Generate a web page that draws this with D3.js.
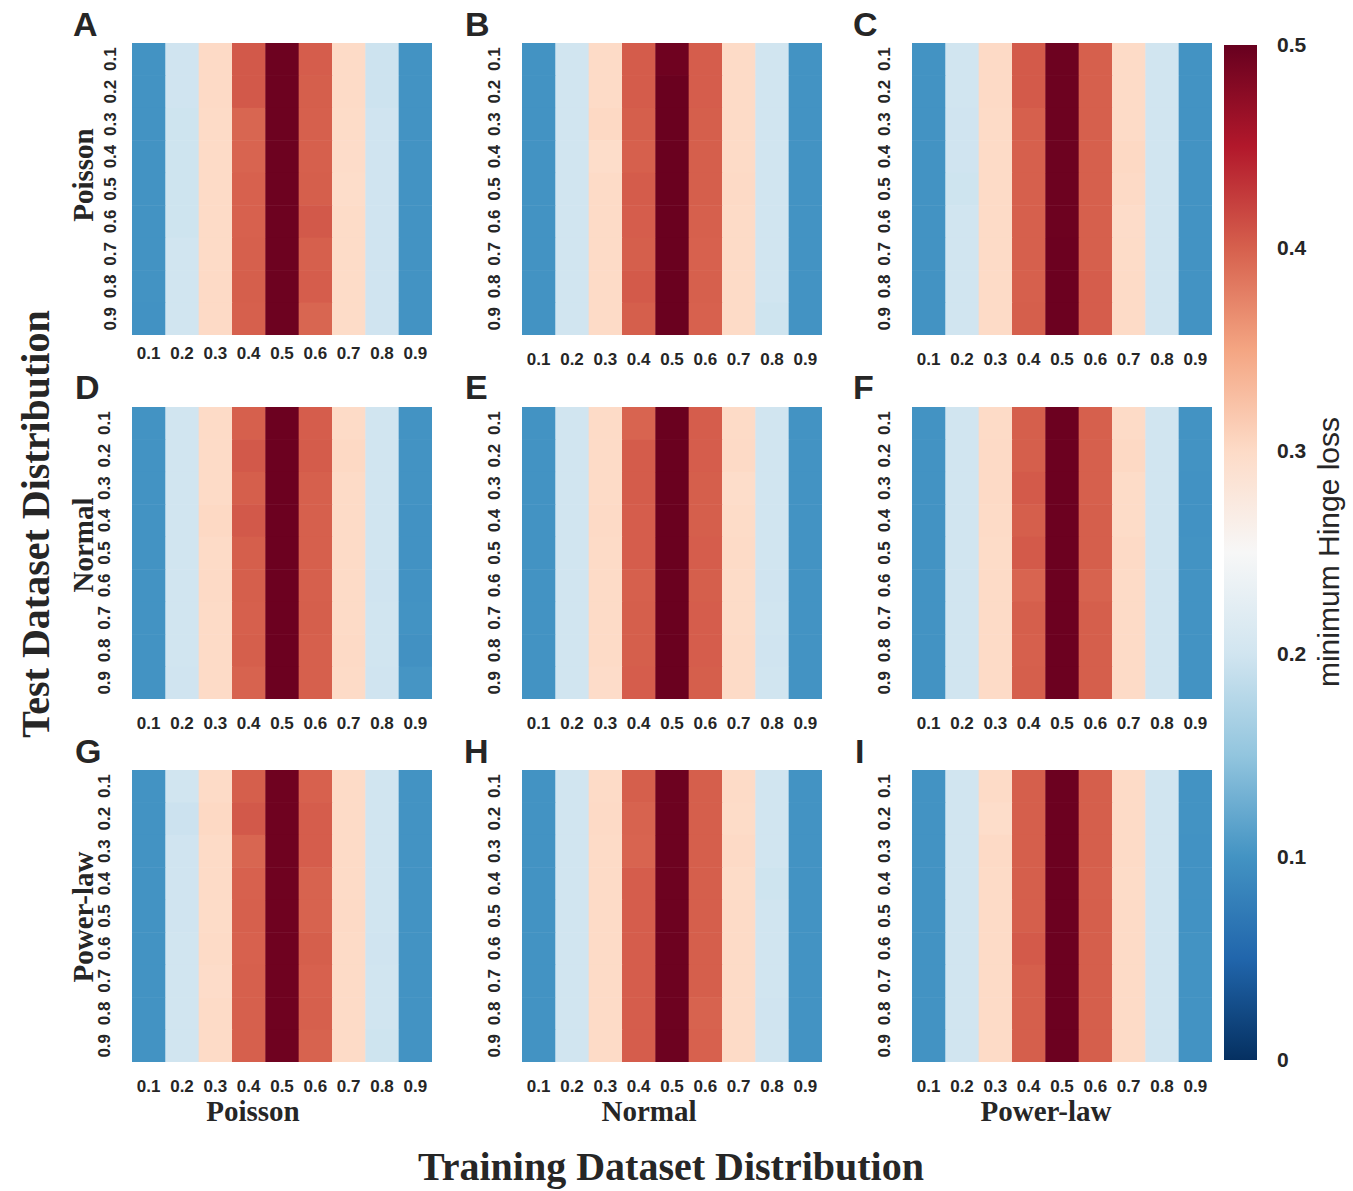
<!DOCTYPE html>
<html>
<head>
<meta charset="utf-8">
<script src="https://cdn.jsdelivr.net/npm/d3@7"></script>
<style>
  html, body { margin: 0; padding: 0; background: #fff; }
  svg { display: block; }
</style>
</head>
<body>
<svg id="chart" width="1353" height="1191"></svg>
<script>
// ---------------- DATA ----------------
const distributions = ["Poisson", "Normal", "Power-law"];   // test (rows) and training (columns)
const tickLabels = ["0.1", "0.2", "0.3", "0.4", "0.5", "0.6", "0.7", "0.8", "0.9"];
const panelLetters = ["A", "B", "C", "D", "E", "F", "G", "H", "I"];
const colorbarTicks = [0, 0.1, 0.2, 0.3, 0.4, 0.5];
const colorbarLabel = "minimum Hinge loss";
const xTitle = "Training Dataset Distribution";
const yTitle = "Test Dataset Distribution";

// rows: test threshold 0.1..0.9 (top to bottom); columns: training threshold 0.1..0.9
const panelA = [
  [0.100,0.199,0.301,0.405,0.496,0.402,0.300,0.197,0.100],
  [0.100,0.199,0.301,0.405,0.496,0.401,0.300,0.197,0.100],
  [0.100,0.198,0.300,0.396,0.496,0.400,0.299,0.199,0.100],
  [0.100,0.198,0.300,0.397,0.496,0.400,0.298,0.199,0.100],
  [0.100,0.198,0.300,0.399,0.496,0.401,0.297,0.199,0.100],
  [0.100,0.198,0.300,0.399,0.496,0.405,0.299,0.199,0.100],
  [0.100,0.200,0.300,0.400,0.496,0.400,0.299,0.199,0.100],
  [0.100,0.200,0.301,0.401,0.496,0.402,0.299,0.199,0.100],
  [0.099,0.200,0.301,0.400,0.496,0.396,0.299,0.199,0.100]
];
const panelB = [
  [0.100,0.200,0.300,0.403,0.495,0.402,0.300,0.200,0.100],
  [0.100,0.200,0.300,0.403,0.498,0.402,0.300,0.200,0.100],
  [0.100,0.200,0.302,0.401,0.498,0.401,0.300,0.200,0.100],
  [0.100,0.200,0.297,0.400,0.498,0.401,0.300,0.200,0.100],
  [0.100,0.200,0.300,0.403,0.498,0.401,0.301,0.200,0.100],
  [0.100,0.200,0.300,0.402,0.498,0.400,0.300,0.200,0.100],
  [0.100,0.200,0.300,0.401,0.498,0.399,0.300,0.200,0.100],
  [0.100,0.200,0.300,0.404,0.498,0.400,0.300,0.200,0.100],
  [0.100,0.200,0.300,0.401,0.498,0.399,0.300,0.198,0.100]
];
const panelC = [
  [0.100,0.200,0.301,0.404,0.496,0.400,0.300,0.200,0.100],
  [0.100,0.200,0.301,0.404,0.496,0.400,0.300,0.200,0.100],
  [0.100,0.199,0.300,0.400,0.496,0.400,0.300,0.200,0.100],
  [0.100,0.199,0.300,0.400,0.496,0.400,0.302,0.200,0.100],
  [0.100,0.198,0.300,0.400,0.496,0.400,0.301,0.200,0.100],
  [0.100,0.200,0.300,0.400,0.496,0.400,0.298,0.200,0.100],
  [0.100,0.200,0.300,0.400,0.497,0.400,0.299,0.200,0.100],
  [0.100,0.200,0.300,0.400,0.497,0.402,0.300,0.200,0.100],
  [0.100,0.200,0.300,0.401,0.497,0.402,0.300,0.200,0.100]
];
const panelD = [
  [0.100,0.200,0.300,0.400,0.497,0.402,0.300,0.200,0.100],
  [0.100,0.200,0.300,0.405,0.497,0.403,0.302,0.200,0.100],
  [0.100,0.200,0.300,0.401,0.497,0.400,0.300,0.200,0.100],
  [0.100,0.200,0.302,0.405,0.497,0.400,0.300,0.200,0.099],
  [0.100,0.200,0.300,0.401,0.497,0.400,0.300,0.200,0.099],
  [0.100,0.200,0.301,0.401,0.497,0.400,0.300,0.199,0.099],
  [0.100,0.200,0.300,0.400,0.497,0.401,0.300,0.200,0.100],
  [0.100,0.200,0.300,0.401,0.497,0.400,0.301,0.200,0.098],
  [0.100,0.199,0.300,0.398,0.497,0.400,0.300,0.199,0.102]
];
const panelE = [
  [0.100,0.200,0.300,0.397,0.498,0.402,0.300,0.200,0.100],
  [0.100,0.200,0.300,0.403,0.498,0.402,0.301,0.200,0.100],
  [0.100,0.200,0.300,0.403,0.498,0.401,0.297,0.200,0.100],
  [0.100,0.200,0.301,0.402,0.498,0.401,0.299,0.200,0.100],
  [0.100,0.200,0.300,0.402,0.498,0.402,0.300,0.200,0.100],
  [0.100,0.200,0.300,0.400,0.498,0.401,0.299,0.199,0.100],
  [0.100,0.200,0.300,0.401,0.498,0.402,0.299,0.200,0.100],
  [0.100,0.200,0.300,0.401,0.498,0.402,0.300,0.199,0.100],
  [0.100,0.200,0.298,0.402,0.498,0.401,0.300,0.200,0.100]
];
const panelF = [
  [0.100,0.200,0.300,0.401,0.497,0.400,0.300,0.200,0.100],
  [0.100,0.200,0.301,0.401,0.497,0.400,0.302,0.200,0.100],
  [0.100,0.200,0.301,0.404,0.497,0.400,0.299,0.200,0.099],
  [0.100,0.200,0.300,0.401,0.497,0.401,0.299,0.200,0.099],
  [0.100,0.200,0.299,0.404,0.497,0.401,0.301,0.200,0.100],
  [0.100,0.200,0.300,0.397,0.497,0.398,0.300,0.200,0.100],
  [0.100,0.200,0.300,0.401,0.497,0.401,0.300,0.200,0.100],
  [0.100,0.200,0.300,0.400,0.497,0.401,0.300,0.200,0.100],
  [0.100,0.200,0.300,0.401,0.497,0.401,0.300,0.200,0.100]
];
const panelG = [
  [0.100,0.200,0.300,0.401,0.495,0.399,0.300,0.200,0.100],
  [0.100,0.196,0.302,0.405,0.495,0.402,0.300,0.200,0.100],
  [0.100,0.199,0.300,0.396,0.495,0.402,0.300,0.200,0.100],
  [0.100,0.199,0.300,0.399,0.495,0.398,0.300,0.200,0.100],
  [0.100,0.199,0.299,0.400,0.495,0.398,0.301,0.200,0.100],
  [0.100,0.200,0.300,0.399,0.495,0.401,0.300,0.199,0.100],
  [0.100,0.200,0.298,0.400,0.495,0.399,0.300,0.200,0.100],
  [0.100,0.200,0.300,0.400,0.495,0.400,0.300,0.200,0.100],
  [0.100,0.200,0.300,0.400,0.495,0.398,0.300,0.198,0.100]
];
const panelH = [
  [0.100,0.200,0.300,0.401,0.496,0.401,0.300,0.200,0.100],
  [0.100,0.200,0.301,0.398,0.496,0.401,0.299,0.200,0.100],
  [0.100,0.200,0.300,0.397,0.496,0.401,0.301,0.200,0.100],
  [0.100,0.200,0.300,0.402,0.496,0.401,0.299,0.198,0.100],
  [0.100,0.200,0.300,0.402,0.496,0.401,0.300,0.200,0.100],
  [0.100,0.200,0.300,0.402,0.496,0.401,0.300,0.200,0.100],
  [0.100,0.200,0.300,0.402,0.496,0.401,0.300,0.200,0.100],
  [0.100,0.200,0.300,0.402,0.496,0.398,0.300,0.199,0.100],
  [0.100,0.200,0.300,0.402,0.496,0.399,0.300,0.200,0.100]
];
const panelI = [
  [0.100,0.200,0.300,0.401,0.497,0.401,0.300,0.200,0.100],
  [0.100,0.200,0.297,0.401,0.497,0.401,0.300,0.200,0.100],
  [0.100,0.200,0.301,0.401,0.497,0.401,0.300,0.200,0.099],
  [0.100,0.200,0.300,0.401,0.497,0.400,0.299,0.200,0.099],
  [0.100,0.200,0.300,0.401,0.497,0.401,0.300,0.200,0.099],
  [0.100,0.200,0.300,0.404,0.497,0.401,0.300,0.200,0.100],
  [0.100,0.200,0.300,0.401,0.497,0.401,0.300,0.200,0.100],
  [0.100,0.200,0.300,0.401,0.497,0.401,0.300,0.200,0.100],
  [0.100,0.200,0.300,0.401,0.497,0.401,0.300,0.200,0.100]
];
const panels = [panelA, panelB, panelC, panelD, panelE, panelF, panelG, panelH, panelI];

// ---------------- STYLE / LAYOUT ----------------
const TXT = "#262626";
const SANS = "'Liberation Sans', Arial, sans-serif";
const SERIF = "'Liberation Serif', 'Times New Roman', serif";
const colX = [132, 522, 912];
const rowY = [43, 407, 770];
const cellAreaW = 300, cellAreaH = 292;

// matplotlib RdBu_r (linear between the 11 anchor colours), vmin 0, vmax 0.5
const rdbu = ["#67001f","#b2182b","#d6604d","#f4a582","#fddbc7","#f7f7f7","#d1e5f0","#92c5de","#4393c3","#2166ac","#053061"].reverse();
const vmin = 0, vmax = 0.5;
const color = d3.scaleLinear()
  .domain(d3.range(rdbu.length).map(i => vmin + (vmax - vmin) * i / (rdbu.length - 1)))
  .range(rdbu)
  .clamp(true);

const svg = d3.select("#chart");

panels.forEach((data, p) => {
  const r = Math.floor(p / 3), c = p % 3;
  const g = svg.append("g").attr("transform", `translate(${colX[c]},${rowY[r]})`);
  const x = d3.scaleBand().domain(tickLabels).range([0, cellAreaW]);
  const y = d3.scaleBand().domain(tickLabels).range([0, cellAreaH]);

  const cells = [];
  data.forEach((row, i) => row.forEach((v, j) => cells.push({ row: tickLabels[i], col: tickLabels[j], v })));
  g.selectAll("rect.cell").data(cells).join("rect")
    .attr("class", "cell")
    .attr("x", d => x(d.col))
    .attr("y", d => y(d.row))
    .attr("width", d => x.bandwidth() + (d.col === "0.9" ? 0 : 0.5))
    .attr("height", d => y.bandwidth() + (d.row === "0.9" ? 0 : 0.5))
    .attr("fill", d => color(d.v));

  const xPad = p === 0 ? 12 : 18;
  const yOff = p === 0 ? 22 : 27.5;

  const xa = g.append("g").attr("transform", `translate(0,${cellAreaH})`)
    .call(d3.axisBottom(x).tickSize(0).tickPadding(xPad));
  xa.select(".domain").remove();
  xa.selectAll("text").attr("fill", TXT).style("font-family", SANS)
    .style("font-size", "17px").style("font-weight", "bold");

  const ya = g.append("g").call(d3.axisLeft(y).tickSize(0));
  ya.select(".domain").remove();
  ya.selectAll("text")
    .attr("x", 0).attr("dy", "0.35em")
    .attr("transform", `translate(${-yOff},0) rotate(-90)`)
    .attr("text-anchor", "middle")
    .attr("fill", TXT).style("font-family", SANS)
    .style("font-size", "17px").style("font-weight", "bold");
});

// panel letters
const letterX = [[73, 465, 853], [75, 465, 853], [75, 464, 855]];
const letterBase = [36, 399, 763];
panelLetters.forEach((L, p) => {
  const r = Math.floor(p / 3), c = p % 3;
  svg.append("text").attr("x", letterX[r][c]).attr("y", letterBase[r])
    .attr("fill", TXT).style("font-family", SANS).style("font-size", "34px")
    .style("font-weight", "bold").text(L);
});

// row (test) labels
const rowLabelY = [175, 545, 917];
distributions.forEach((d, i) => {
  svg.append("text")
    .attr("transform", `translate(93,${rowLabelY[i]}) rotate(-90)`)
    .attr("text-anchor", "middle").attr("fill", TXT)
    .style("font-family", SERIF).style("font-size", "29px").style("font-weight", "bold")
    .text(d);
});
// column (training) labels
const colLabelX = [253, 649, 1046];
distributions.forEach((d, i) => {
  svg.append("text")
    .attr("x", colLabelX[i]).attr("y", 1121)
    .attr("text-anchor", "middle").attr("fill", TXT)
    .style("font-family", SERIF).style("font-size", "29px").style("font-weight", "bold")
    .text(d);
});

// big axis titles
svg.append("text").attr("x", 671).attr("y", 1180).attr("text-anchor", "middle")
  .attr("fill", TXT).style("font-family", SERIF).style("font-size", "40px").style("font-weight", "bold")
  .text(xTitle);
svg.append("text").attr("transform", "translate(49,524) rotate(-90)").attr("text-anchor", "middle")
  .attr("fill", TXT).style("font-family", SERIF).style("font-size", "40px").style("font-weight", "bold")
  .text(yTitle);

// colorbar
const cbX = 1224, cbW = 33, cbTop = 45, cbBottom = 1060;
const cbScale = d3.scaleLinear().domain([vmin, vmax]).range([cbBottom, cbTop]);
const defs = svg.append("defs");
const grad = defs.append("linearGradient").attr("id", "cbgrad")
  .attr("x1", 0).attr("y1", 1).attr("x2", 0).attr("y2", 0);
rdbu.forEach((col, i) => {
  grad.append("stop").attr("offset", i / (rdbu.length - 1)).attr("stop-color", col);
});
svg.append("rect").attr("x", cbX).attr("y", cbTop).attr("width", cbW)
  .attr("height", cbBottom - cbTop).attr("fill", "url(#cbgrad)");

const cbAxis = svg.append("g").attr("transform", `translate(${cbX + cbW},0)`)
  .call(d3.axisRight(cbScale).tickValues(colorbarTicks).tickSize(0).tickPadding(20)
    .tickFormat(d => d === 0 ? "0" : d3.format(".1f")(d)));
cbAxis.select(".domain").remove();
cbAxis.selectAll("text").attr("fill", TXT).style("font-family", SANS)
  .style("font-size", "21px").style("font-weight", "bold");

svg.append("text").attr("transform", "translate(1339,552) rotate(-90)")
  .attr("text-anchor", "middle").attr("fill", TXT)
  .style("font-family", SANS).style("font-size", "30px")
  .text(colorbarLabel);
</script>
</body>
</html>
